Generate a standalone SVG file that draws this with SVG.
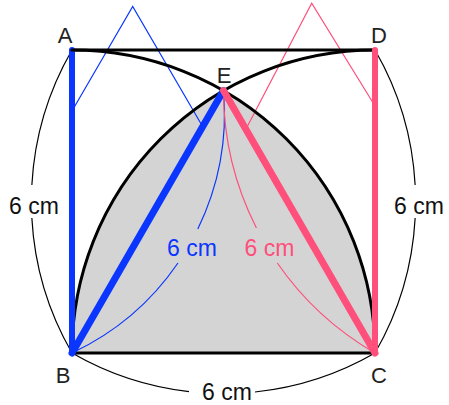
<svg xmlns="http://www.w3.org/2000/svg" width="449" height="405" viewBox="0 0 449 405">
<style>
.lbl{font-family:"Liberation Sans","DejaVu Sans",sans-serif;font-size:22px;text-anchor:middle;fill:#222}
.dim{font-family:"Liberation Sans","DejaVu Sans",sans-serif;font-size:23px;text-anchor:middle}
.thin{fill:none;stroke-width:1.2}
.k{stroke:#000}
.b{stroke:#0a36ff}
.p{stroke:#ff4f7b}
.thick{fill:none;stroke-width:3;stroke:#000;stroke-linecap:round}
</style>
<rect width="449" height="405" fill="#fff"/>
<g id="region">
<path d="M72,353 L375,353 A303,303 0 0 0 223.5,90.6 A303,303 0 0 0 72,353 Z" fill="#d4d4d4"/>
</g>
<g id="connectors">
<!-- dimension arcs -->
<path class="thin k" d="M72,50 A303,303 0 0 0 31.85,185 M31.85,218 A303,303 0 0 0 72,353"/>
<path class="thin k" d="M375,50 A303,303 0 0 1 415.15,185 M415.15,218 A303,303 0 0 1 375,353"/>
<path class="thin k" d="M72,353 A303,303 0 0 0 189,391.6 M255,392 A303,303 0 0 0 375,353"/>
<path class="thin b" d="M223.5,90.6 A265,265 0 0 1 197.8,229 M178,263 A265,265 0 0 1 72,353"/>
<path class="thin p" d="M223.5,90.6 A303,303 0 0 0 256.4,228 M277.3,263 A303,303 0 0 0 375,353"/>
<!-- equal marks -->
<polyline class="thin b" points="72,111 132.7,6.5 202.6,126.5"/>
<polyline class="thin p" points="375,106 311.7,3.3 246,129"/>
<!-- arcs and square -->
<path class="thick" d="M72,50 A303,303 0 0 1 375,353"/>
<path class="thick" d="M375,50 A303,303 0 0 0 72,353"/>
<line x1="72" y1="353" x2="72" y2="50" stroke="#0a36ff" stroke-width="6" stroke-linecap="round"/>
<line class="thick" x1="72" y1="50" x2="375" y2="50"/>
<line class="thick" x1="72" y1="353" x2="375" y2="353"/>
<line x1="375" y1="50" x2="375" y2="353" stroke="#ff4f7b" stroke-width="6" stroke-linecap="round"/>
<line x1="72" y1="353" x2="223.5" y2="90.6" stroke="#0a36ff" stroke-width="7" stroke-linecap="round"/>
<line x1="223.5" y1="90.6" x2="375" y2="353" stroke="#ff4f7b" stroke-width="7" stroke-linecap="round"/>
</g>
<g id="A"><text class="lbl" x="65" y="43">A</text></g>
<g id="D"><text class="lbl" x="379" y="43">D</text></g>
<g id="E"><text class="lbl" x="224" y="83">E</text></g>
<g id="B"><text class="lbl" x="63" y="383">B</text></g>
<g id="C"><text class="lbl" x="379" y="383">C</text></g>
<g id="labels">
<text class="dim" x="34" y="214" fill="#111">6 cm</text>
<text class="dim" x="419" y="214" fill="#111">6 cm</text>
<text class="dim" x="227" y="400" fill="#111">6 cm</text>
<text class="dim" x="192" y="256" fill="#0a36ff">6 cm</text>
<text class="dim" x="269.5" y="256" fill="#ff4f7b">6 cm</text>
</g>
</svg>
